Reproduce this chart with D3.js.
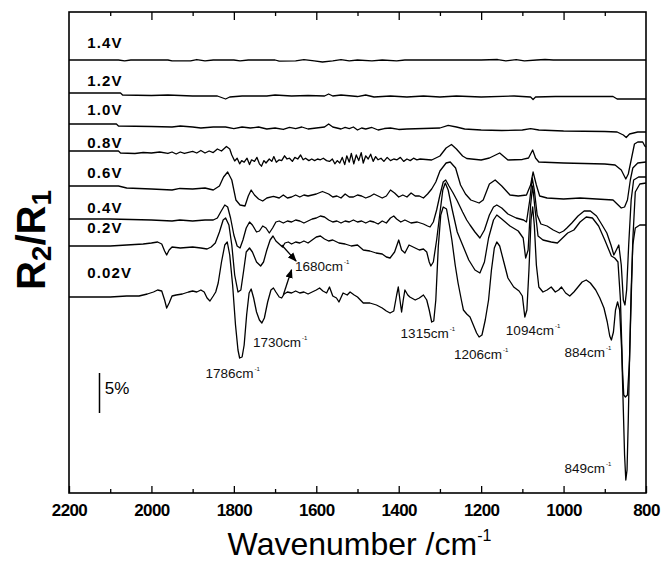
<!DOCTYPE html>
<html><head><meta charset="utf-8">
<script src="https://cdn.jsdelivr.net/npm/d3@7"></script>
<style>body{margin:0;background:#fff}svg{display:block}</style>
</head><body>
<svg id="c" width="665" height="562"></svg>
<script>
// ---------------- data ----------------
const voltages = ["1.4V","1.2V","1.0V","0.8V","0.6V","0.4V","0.2V","0.02V"];
// vertical offset of each spectrum (in % of R2/R1)
const offsets = [54.125, 50, 46.25, 42.75, 38.375, 34.25, 30.875, 24.5];
// [wavenumber (cm-1), change of R2/R1 (%)] for each potential
const s14 = [[2200,0],[2080,0],[2065,-0.12],[2050,0],[1960,0],[1950,-0.12],[1905,-0.12],[1890,0.06],[1870,-0.12],[1850,0],[1800,0],[1785,-0.12],[1765,0],[1700,0],[1690,-0.15],[1650,-0.12],[1630,0.06],[1605,-0.12],[1585,-0.25],[1560,-0.12],[1540,0.06],[1520,-0.12],[1500,0],[1465,-0.12],[1440,0],[1405,-0.12],[1385,0],[1200,0],[1160,0.06],[1140,-0.12],[1115,0.06],[1095,-0.12],[1065,0],[1045,0.06],[1025,0],[800,0]];
const s12 = [[2200,0],[2075,0],[2070,-0.25],[2000,-0.31],[1960,-0.25],[1900,-0.375],[1840,-0.375],[1820,-0.75],[1810,-0.5],[1780,-0.375],[1720,-0.375],[1700,-0.25],[1660,-0.375],[1620,-0.31],[1580,-0.375],[1570,-0.125],[1560,-0.375],[1540,-0.25],[1500,-0.44],[1480,-0.25],[1460,-0.5],[1420,-0.375],[1380,-0.5],[1340,-0.375],[1300,-0.5],[1260,-0.375],[1200,-0.5],[1120,-0.375],[1080,-0.5],[1074,-0.81],[1068,-0.5],[1020,-0.44],[880,-0.44],[870,-0.75],[800,-0.75]];
const s10 = [[2200,-0.125],[2085,-0.125],[2080,-0.375],[2000,-0.44],[1950,-0.5],[1930,-0.375],[1900,-0.5],[1880,-0.625],[1850,-0.5],[1820,-0.5],[1800,-0.69],[1780,-0.5],[1760,-0.625],[1740,-0.5],[1720,-0.75],[1700,-0.625],[1680,-0.81],[1665,-0.56],[1650,-0.69],[1635,-0.5],[1620,-0.75],[1600,-0.625],[1580,-0.5],[1570,-0.125],[1560,-0.5],[1540,-0.75],[1530,-0.56],[1520,-0.69],[1510,-0.5],[1500,-0.875],[1490,-0.625],[1480,-0.75],[1465,-0.56],[1450,-0.875],[1435,-0.69],[1420,-0.625],[1400,-0.81],[1380,-0.75],[1340,-0.69],[1300,-0.625],[1280,-0.31],[1260,-0.5],[1240,-0.75],[1200,-0.875],[1150,-0.94],[1100,-0.875],[1080,-0.69],[1060,-0.875],[1000,-1],[900,-1.06],[870,-1.125],[855,-1.5],[848,-1.81],[840,-1.375],[820,-1.125],[800,-1.125]];
const s08 = [[2200,0],[2080,0],[2075,-0.25],[2040,-0.31],[2020,-0.19],[2000,-0.25],[1980,-0.125],[1960,-0.31],[1950,-0.125],[1940,-0.375],[1930,-0.125],[1920,-0.31],[1900,-0.06],[1890,-0.25],[1880,0.06],[1870,-0.25],[1860,0],[1850,-0.19],[1840,0.25],[1830,0],[1818,0.56],[1810,0.25],[1805,-0.5],[1798,-1.25],[1792,-0.9],[1786,-1.6],[1781,-1.2],[1775,-1.4],[1768,-0.9],[1762,-1.7],[1757,-1.1],[1750,-1.3],[1744,-0.8],[1738,-1.6],[1733,-1.9],[1727,-1.2],[1722,-1.5],[1714,-1.0],[1708,-1.3],[1703,-0.7],[1697,-1.4],[1690,-1.1],[1684,-1.2],[1677,-0.6],[1671,-1.0],[1665,-0.9],[1658,-1.3],[1652,-0.8],[1645,-1.0],[1638,-0.5],[1632,-1.1],[1626,-0.9],[1618,-1.2],[1611,-1.0],[1604,-1.2],[1597,-1.0],[1590,-1.1],[1583,-0.9],[1575,-1.2],[1568,-1.3],[1561,-1.0],[1555,-1.6],[1549,-1.2],[1543,-1.5],[1537,-0.8],[1531,-1.7],[1526,-0.6],[1520,-1.4],[1515,-0.3],[1509,-1.6],[1503,-0.5],[1497,-1.2],[1491,-0.2],[1486,-1.5],[1480,-0.6],[1474,-1.0],[1468,-0.4],[1462,-1.3],[1456,-0.7],[1450,-1.1],[1443,-0.9],[1436,-1.3],[1428,-0.8],[1420,-1.2],[1412,-1.0],[1404,-1.1],[1396,-0.8],[1388,-1.3],[1380,-1.0],[1372,-1.2],[1364,-0.9],[1356,-1.1],[1348,-1.0],[1320,-1.125],[1300,-0.625],[1285,0.375],[1272,0.81],[1260,0.25],[1245,-0.625],[1235,-0.94],[1200,-1.125],[1180,-0.875],[1155,-0.25],[1135,-1.125],[1100,-1.06],[1085,-0.875],[1075,0.125],[1068,-0.875],[1060,-1.375],[1000,-1.5],[950,-1.56],[900,-1.625],[875,-1.75],[860,-2.375],[849,-3.5],[843,-2.875],[835,-0.875],[828,0.875],[820,1.125],[808,1.125],[803,0.625],[800,0.5]];
const s06 = [[2200,0],[2080,0],[2060,-0.25],[2000,-0.375],[1950,-0.5],[1931,-0.31],[1900,-0.375],[1870,-0.25],[1850,-0.5],[1835,0],[1825,1.125],[1815,1.75],[1805,0.75],[1795,-1.75],[1785,-2.375],[1773,-2.5],[1765,-1.25],[1758,-0.5],[1750,-1.125],[1740,-1.625],[1730,-1.875],[1720,-1.5],[1704,-1.31],[1690,-1.5],[1680,-1.125],[1670,-1.5],[1660,-1.375],[1650,-1.125],[1640,-1.375],[1630,-1.125],[1620,-1.25],[1600,-1],[1585,-0.69],[1570,-1],[1560,-1.375],[1550,-1.25],[1540,-1.5],[1530,-1],[1520,-1.375],[1510,-1.375],[1500,-1.125],[1490,-1.25],[1480,-1.5],[1470,-1.31],[1460,-1],[1450,-1.25],[1440,-1.5],[1430,-1.25],[1420,-0.5],[1410,-0.875],[1400,-1.375],[1390,-1.125],[1380,-1.375],[1370,-0.875],[1360,-1.25],[1350,-1.25],[1340,-1.5],[1330,-1],[1320,-0.375],[1310,0.5],[1300,1.875],[1285,2.875],[1275,3],[1262,2.25],[1250,0.125],[1238,-1],[1225,-1.75],[1205,-2.125],[1195,-1.75],[1180,0.25],[1166,0.75],[1150,0],[1130,-1.125],[1110,-1.25],[1090,-1.125],[1080,0.125],[1074,1.75],[1066,0.125],[1058,-1.25],[1040,-1.5],[1000,-1.625],[960,-1.5],[920,-1.625],[880,-1.75],[870,-2.25],[860,-2.75],[852,-2.625],[845,-1.75],[838,0.75],[832,2.25],[820,2.875],[800,3]];
const s04 = [[2200,0],[2100,0],[2000,-0.125],[1950,-0.25],[1931,-0.125],[1900,-0.25],[1870,-0.125],[1850,-0.125],[1840,0.125],[1832,0.875],[1822,1.75],[1815,1.5],[1808,0.125],[1800,-2],[1792,-3.375],[1785,-3.625],[1778,-2.625],[1770,-1.125],[1762,-0.375],[1755,-0.75],[1745,-1.625],[1738,-1.5],[1730,-0.875],[1722,-1.125],[1714,-1.75],[1706,-1.125],[1698,-0.375],[1690,-0.25],[1680,-0.5],[1670,-0.25],[1660,-0.375],[1650,-0.125],[1640,-0.25],[1630,-0.5],[1620,-0.25],[1610,0],[1600,0.125],[1590,0.375],[1580,0.25],[1570,-0.125],[1560,-0.375],[1550,-0.25],[1540,-0.5],[1530,-0.25],[1520,-0.375],[1510,-0.125],[1500,-0.375],[1490,-0.25],[1480,-0.5],[1470,-0.25],[1460,-0.375],[1450,-0.625],[1440,-0.25],[1430,-0.5],[1420,0.125],[1412,0.375],[1405,0],[1395,-0.375],[1385,-0.125],[1370,-0.5],[1355,-0.375],[1340,-0.625],[1330,-0.875],[1324,-1],[1316,-0.375],[1308,1.125],[1300,3],[1292,4.625],[1286,4.875],[1278,4.125],[1268,3.25],[1259,2.375],[1245,0.875],[1235,-0.125],[1227,-0.75],[1215,-1.625],[1203,-2.375],[1192,-1.375],[1180,0.5],[1170,1.5],[1162,1.75],[1150,1.375],[1135,0.625],[1115,0.125],[1097,-0.125],[1090,-0.375],[1082,2.375],[1076,5.125],[1071,3.625],[1064,0.5],[1055,-0.625],[1040,-0.875],[1025,-1.375],[1010,-1.75],[1000,-1.5],[992,-1.125],[980,-0.5],[965,0.375],[950,1],[935,1],[920,0.375],[908,-0.625],[895,-1.75],[885,-3.25],[878,-4.5],[872,-3.875],[866,-3.25],[860,-5.75],[855,-10.125],[851,-10.75],[847,-8.875],[842,-3.25],[836,2.375],[830,4.875],[818,5.25],[800,5.25]];
const s02 = [[2200,0],[2100,0],[2060,0.125],[2020,0.25],[2000,0.375],[1985,0.5],[1975,0.25],[1968,-0.625],[1963,-1.125],[1957,-0.5],[1950,-0.125],[1930,-0.25],[1900,-0.125],[1880,-0.25],[1865,-0.375],[1855,-0.125],[1845,0.375],[1835,1.75],[1826,3.25],[1820,3.5],[1812,2.625],[1805,0.125],[1798,-3.625],[1790,-5.75],[1783,-5.5],[1776,-3],[1770,-0.75],[1762,-0.25],[1755,-0.75],[1745,-2],[1735,-2.5],[1728,-2],[1720,-0.5],[1712,0.75],[1705,1.25],[1698,0.625],[1690,0.25],[1682,-0.125],[1676,0.375],[1668,0.5],[1660,0.25],[1650,0.5],[1640,0.375],[1630,0.625],[1620,0.375],[1610,0.75],[1600,1.125],[1590,1.25],[1580,0.875],[1570,0.625],[1560,0.75],[1545,0.375],[1530,0.25],[1515,0],[1500,0.125],[1486,-0.5],[1470,-0.625],[1455,-0.875],[1440,-1],[1430,-1.375],[1421,-1.5],[1410,-0.75],[1400,0.75],[1393,-0.5],[1385,-0.875],[1375,0.125],[1365,-0.125],[1350,-0.5],[1340,-0.375],[1332,-0.75],[1326,-2],[1322,-2.5],[1316,-2],[1308,0.75],[1300,4.125],[1293,7],[1287,7.875],[1280,7],[1270,4.5],[1258,1.75],[1245,0.125],[1230,-1.75],[1215,-3],[1203,-3.375],[1192,-2],[1182,1],[1170,3.25],[1162,3.875],[1150,3.375],[1130,2.5],[1110,1.875],[1098,1],[1092,-1.5],[1086,-0.5],[1080,5.125],[1075,7.5],[1069,4.5],[1062,1.25],[1050,0.75],[1030,0.5],[1015,0.375],[1000,1.125],[990,1.625],[975,2],[960,3],[945,3.625],[930,3.5],[915,2.5],[900,0.75],[890,-0.5],[884,-1.25],[876,-1.5],[868,-2],[862,-6.75],[857,-15.5],[854,-18.625],[850,-18.875],[845,-18.625],[840,-14.25],[836,-6.75],[832,0.75],[826,6.75],[815,7.75],[800,7.875]];
const s002 = [[2200,0],[2150,0],[2100,0],[2060,0.125],[2030,0.125],[2010,0.375],[1995,0.625],[1985,0.875],[1975,0.75],[1968,-0.375],[1963,-1.375],[1957,-0.75],[1950,0.125],[1940,0.25],[1925,0.375],[1910,0.625],[1900,0.75],[1890,0.625],[1880,0.875],[1872,0.625],[1865,-0.125],[1858,-0.5],[1850,0.125],[1844,0.625],[1838,1.75],[1830,4.375],[1822,6.5],[1816,6.875],[1810,5.25],[1803,1.5],[1796,-3.5],[1790,-6.625],[1786,-7.625],[1780,-7.5],[1775,-6],[1769,-2.25],[1763,0.5],[1758,1],[1752,-0.125],[1745,-1.875],[1738,-2.875],[1732,-3.25],[1726,-2.625],[1718,-0.625],[1710,0.875],[1704,1.125],[1698,0.625],[1690,0],[1684,-0.125],[1678,0.375],[1670,0.625],[1660,0.5],[1650,0.75],[1640,0.5],[1630,0.625],[1620,0.375],[1610,0.625],[1600,0.875],[1592,1.125],[1584,0.75],[1575,0.5],[1568,1.25],[1560,0.125],[1551,-0.125],[1545,-0.625],[1535,0.5],[1525,0.25],[1518,0.625],[1508,0.25],[1500,0],[1486,-0.75],[1470,-0.75],[1454,-1],[1440,-1.375],[1430,-1.75],[1421,-2],[1412,-1.75],[1405,0.25],[1401,1.25],[1397,-0.375],[1393,-1.875],[1389,-0.375],[1385,0.875],[1378,0.25],[1373,0],[1360,-0.375],[1350,-0.125],[1340,0.25],[1332,-0.375],[1326,-1.625],[1320,-3.125],[1315,-3],[1310,-0.375],[1304,6.25],[1298,10.25],[1292,11.25],[1284,11],[1277,9],[1271,7.125],[1263,4],[1256,1.75],[1248,-0.375],[1243,-1.625],[1235,-2.125],[1227,-2.5],[1219,-3.5],[1211,-4.5],[1205,-5],[1198,-4.75],[1190,-2.875],[1182,-0.375],[1175,3.375],[1168,6.125],[1162,6.875],[1155,6.375],[1145,4.375],[1135,2.375],[1121,1.25],[1108,0.75],[1100,0.125],[1094,-2.5],[1089,-1.625],[1084,3.375],[1079,9.625],[1075,11.25],[1071,9],[1066,4],[1060,1.25],[1050,0.625],[1040,0.875],[1030,1.25],[1020,0.625],[1012,0.875],[1005,1.25],[995,0.5],[985,0.125],[975,0.625],[965,1.25],[955,1.875],[945,2.125],[935,1.75],[922,0.875],[912,-0.125],[902,-1.375],[894,-3.125],[888,-4.875],[884,-5.375],[879,-4.375],[874,-1.625],[869,-0.625],[864,-1.625],[859,-6.625],[855,-14.125],[852,-19.75],[849,-22.875],[846,-21.625],[843,-15.375],[840,-7.875],[836,0.875],[832,6.5],[826,8.625],[815,9],[800,9]];
const spectra = [s14, s12, s10, s08, s06, s04, s02, s002];

const xTicks = [2200,2000,1800,1600,1400,1200,1000,800];
const xMinor = [2100,1900,1700,1500,1300,1100,900];
const peakLabels = ["1786","1730","1315","1206","1094","884","849","1680"];

// ---------------- layout ----------------
const M = {left:69, right:646, top:12, bottom:493};
const x = d3.scaleLinear().domain([2200,800]).range([M.left, M.right]);
const y = d3.scaleLinear().domain([0,60.125]).range([M.bottom, M.top]);
const svg = d3.select("#c");
const FONT = "'Liberation Sans', Arial, Helvetica, sans-serif";

// frame
svg.append("rect").attr("x",x(2200)).attr("y",y(60.125))
  .attr("width",x(800)-x(2200)).attr("height",y(0)-y(60.125))
  .attr("fill","none").attr("stroke","#000").attr("stroke-width",1.6);

// bottom axis (inward ticks)
const gB = svg.append("g").attr("transform",`translate(0,${M.bottom})`);
gB.call(d3.axisBottom(x).tickValues(xTicks).tickSize(-7).tickPadding(11).tickFormat(d3.format("d")));
gB.append("g").call(d3.axisBottom(x).tickValues(xMinor).tickSize(-4).tickFormat(""));
gB.selectAll(".domain").remove();
gB.selectAll("line").attr("stroke","#000").attr("stroke-width",1.3);
gB.selectAll("text").attr("font-family",FONT).attr("font-weight","bold")
  .attr("font-size",17).attr("fill","#000").attr("letter-spacing","-0.6");

// top axis (inward ticks)
const gT = svg.append("g").attr("transform",`translate(0,${M.top})`);
gT.call(d3.axisTop(x).tickValues(xTicks.slice(1,-1)).tickSize(-8).tickFormat(""));
gT.append("g").call(d3.axisTop(x).tickValues(xMinor).tickSize(-4).tickFormat(""));
gT.selectAll(".domain").remove();
gT.selectAll("line").attr("stroke","#000").attr("stroke-width",1.3);

// spectra
const line = d3.line().x(d=>x(d[0])).y(d=>y(d[1]));
svg.append("g").selectAll("path").data(spectra).join("path")
  .attr("d",(s,i)=>line(s.map(p=>[p[0],p[1]+offsets[i]])))
  .attr("fill","none").attr("stroke","#000").attr("stroke-width",1.3)
  .attr("stroke-linejoin","round");

// voltage labels
const labelLift = [1.5,0.875,1,0.375,1,0.75,1.625,2.375];
svg.append("g").selectAll("text").data(voltages).join("text")
  .attr("x",x(2156)).attr("y",(d,i)=>y(offsets[i]+labelLift[i]))
  .attr("font-family",FONT).attr("font-weight","bold").attr("font-size",15)
  .attr("letter-spacing","1.2").text(d=>d);

// peak annotations [wavenumber, height] of text start
const annPos = [[1869,14.375],[1753.5,18.25],[1395.4,19.375],[1265.8,16.75],[1140,19.75],[998,17],[998,2.5],[1651.6,27.7]];
const ann = svg.append("g").selectAll("text").data(peakLabels).join("text")
  .attr("x",(d,i)=>x(annPos[i][0])).attr("y",(d,i)=>y(annPos[i][1]))
  .attr("font-family",FONT).attr("font-size",13.5).attr("fill","#111");
ann.append("tspan").text(d=>d+"cm");
ann.append("tspan").attr("font-size",6).attr("dy",-7).attr("dx",1).text("-1");

// arrows to the 1680 band
svg.append("defs").append("marker").attr("id","ah").attr("viewBox","0 0 10 10")
  .attr("refX",9).attr("refY",5).attr("markerWidth",7).attr("markerHeight",7)
  .attr("orient","auto").append("path").attr("d","M0,1L10,5L0,9Z").attr("fill","#000");
const arrows = [[[1684,31],[1649,29]],[[1680,24.75],[1660,27.9]]];
svg.append("g").selectAll("line").data(arrows).join("line")
  .attr("x1",d=>x(d[0][0])).attr("y1",d=>y(d[0][1]))
  .attr("x2",d=>x(d[1][0])).attr("y2",d=>y(d[1][1]))
  .attr("stroke","#000").attr("stroke-width",1.3).attr("marker-end","url(#ah)");

// 5% scale bar
svg.append("line").attr("x1",x(2126)).attr("x2",x(2126)).attr("y1",y(10)).attr("y2",y(15))
  .attr("stroke","#000").attr("stroke-width",1.5);
svg.append("text").attr("x",x(2113)).attr("y",y(12.375)).attr("font-family",FONT)
  .attr("font-size",17).text("5%");

// axis titles
const xt = svg.append("text").attr("x",(M.left+M.right)/2+2).attr("y",555)
  .attr("text-anchor","middle").attr("font-family",FONT).attr("font-size",32).attr("fill","#000");
xt.append("tspan").text("Wavenumber /cm");
xt.append("tspan").attr("font-size",16).attr("dy",-14).text("-1");

const yt = svg.append("text").attr("transform",`translate(45,240) rotate(-90)`)
  .attr("text-anchor","middle").attr("font-family",FONT).attr("font-size",40).attr("font-weight","bold");
yt.append("tspan").text("R");
yt.append("tspan").attr("font-size",28).attr("dy",6).text("2");
yt.append("tspan").attr("dy",-6).text("/R");
yt.append("tspan").attr("font-size",28).attr("dy",6).text("1");
</script>
</body></html>
